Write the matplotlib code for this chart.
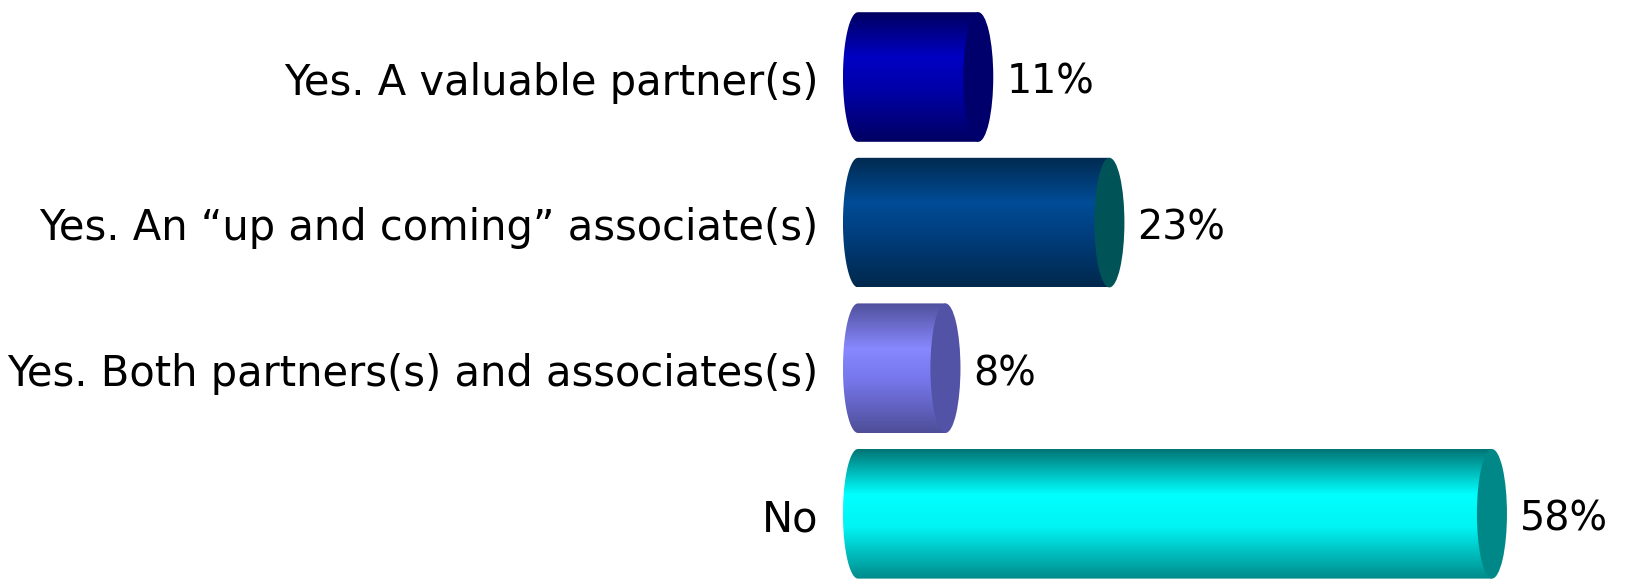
import numpy as np
import matplotlib
matplotlib.use('Agg')
import matplotlib.pyplot as plt
import matplotlib.patches as patches
from matplotlib.colors import LinearSegmentedColormap

# Data
categories = ['Yes. A valuable partner(s)',
              'Yes. An \u201cup and coming\u201d associate(s)',
              'Yes. Both partners(s) and associates(s)',
              'No']
values = [11, 23, 8, 58]
value_labels = ['11%', '23%', '8%', '58%']

# body gradient (edge, highlight, base, edge) and end cap colour per bar
body_colors = [['#000060', '#0000c4', '#0000a8', '#000062'],
               ['#002a50', '#004c96', '#003e7e', '#00284c'],
               ['#50509c', '#8888ff', '#7676ea', '#4e4e98'],
               ['#007474', '#00ffff', '#00f4f4', '#008a8a']]
cap_colors = ['#00006c', '#005458', '#5252a6', '#008888']

fig = plt.figure(figsize=(16.25, 5.79), dpi=100)
ax = fig.add_axes([0, 0, 1, 1])

px = 10.93          # pixels per percent
x0 = 858            # pixel of 0%
ax.set_xlim(-x0 / px, (1625 - x0) / px)
ax.set_ylim((579 - 77) / 145.6, -77 / 145.6)
ax.axis('off')

h = 0.89            # bar thickness
ew = 2.75           # ellipse width in data units

for i, (v, cols, cap) in enumerate(zip(values, body_colors, cap_colors)):
    cmap = LinearSegmentedColormap.from_list('b%d' % i,
                                             list(zip([0, 0.35, 0.6, 1], cols)))
    grad = np.linspace(0, 1, 256).reshape(-1, 1)
    img = ax.imshow(grad, cmap=cmap, aspect='auto', origin='upper',
                    extent=(-ew / 2, v, i + h / 2, i - h / 2), zorder=2)
    theta = np.linspace(np.pi / 2, 3 * np.pi / 2, 60)
    xs = (ew / 2) * np.cos(theta)
    ys = i - (h / 2) * np.sin(theta)
    pts = list(zip(xs, ys)) + [(v, i + h / 2), (v, i - h / 2)]
    clip = patches.Polygon(pts, closed=True, transform=ax.transData,
                           facecolor='none', edgecolor='none')
    ax.add_patch(clip)
    img.set_clip_path(clip)
    ax.add_patch(patches.Ellipse((v, i), ew, h, facecolor=cap,
                                 edgecolor='none', zorder=3))

    ax.text(-3.6, i + 0.04, categories[i], ha='right', va='center',
            fontsize=30, color='black')
    ax.text(v + ew / 2 + 1.2, i + 0.04, value_labels[i], ha='left', va='center',
            fontsize=28.5, color='black')

fig.savefig('out.png', dpi=100, facecolor='white')
